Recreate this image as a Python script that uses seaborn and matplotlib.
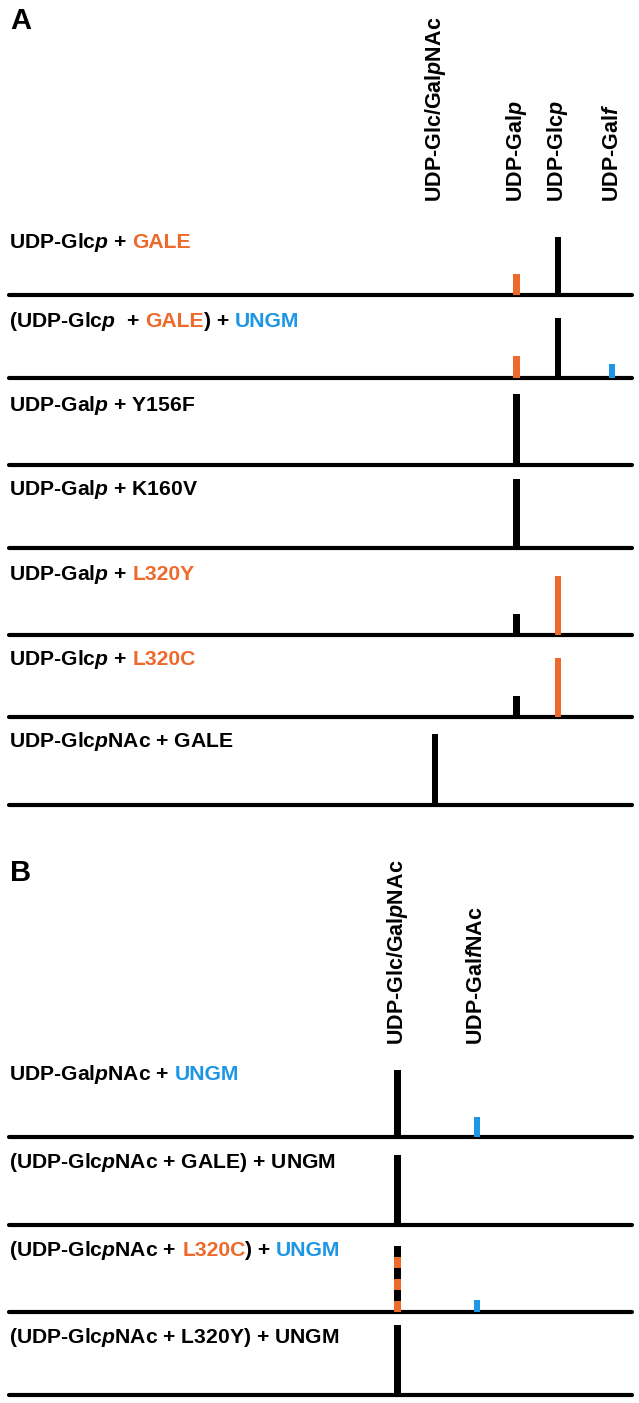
import numpy as np
import pandas as pd
import seaborn as sns
import matplotlib.pyplot as plt
from matplotlib import transforms as mtransforms

sns.set_theme(style="white")
plt.rcParams["font.family"] = ["Liberation Sans", "DejaVu Sans"]
plt.rcParams["text.color"] = "black"
plt.rcParams["mathtext.fontset"] = "custom"
plt.rcParams["mathtext.it"] = "Liberation Sans:italic:bold"
plt.rcParams["mathtext.rm"] = "Liberation Sans:bold"
plt.rcParams["mathtext.bf"] = "Liberation Sans:bold"
plt.rcParams["mathtext.sf"] = "Liberation Sans:bold"

ORANGE = "#ED6A2C"
BLUE = "#1D96E6"
colors = {"k": "black", "o": ORANGE, "b": BLUE}

# ---- panel A data ----
a_species = ["UDP-Glc/Gal$p$NAc", "UDP-Gal$p$", "UDP-Glc$p$", "UDP-Gal$f$"]
a_species_pos = [68.4, 81.5, 88.1, 96.8]   # elution position (a.u.)
a_labels = [
    [("UDP-Glc$p$ + ", "k"), ("GALE", "o")],
    [("(UDP-Glc$p$  + ", "k"), ("GALE", "o"), (") + ", "k"), ("UNGM", "b")],
    [("UDP-Gal$p$ + Y156F", "k")],
    [("UDP-Gal$p$ + K160V", "k")],
    [("UDP-Gal$p$ + ", "k"), ("L320Y", "o")],
    [("UDP-Glc$p$ + ", "k"), ("L320C", "o")],
    [("UDP-Glc$p$NAc + GALE", "k")],
]
a_peak_row = [0, 0, 1, 1, 1, 2, 3, 4, 4, 5, 5, 6]
a_peak_species = [2, 1, 2, 1, 3, 1, 1, 2, 1, 2, 1, 0]
a_peak_height = [58, 21, 60, 22, 14, 71, 69, 59, 21, 59, 21, 71]
a_peak_color = ["k", "o", "k", "o", "b", "k", "k", "o", "k", "o", "k", "k"]

# ---- panel B data ----
b_species = ["UDP-Glc/Gal$p$NAc", "UDP-Gal$f$NAc"]
b_species_pos = [62.4, 75.1]
b_labels = [
    [("UDP-Gal$p$NAc + ", "k"), ("UNGM", "b")],
    [("(UDP-Glc$p$NAc + GALE) + UNGM", "k")],
    [("(UDP-Glc$p$NAc + ", "k"), ("L320C", "o"), (") + ", "k"), ("UNGM", "b")],
    [("(UDP-Glc$p$NAc + L320Y) + UNGM", "k")],
]
b_peak_row = [0, 0, 1, 2, 2, 3]
b_peak_species = [0, 1, 0, 0, 1, 0]
b_peak_height = [67, 20, 70, 66, 12, 70]
b_peak_color = ["k", "b", "k", "ko", "b", "k"]   # "ko" = co-eluting black/orange

# ---- layout (pixels) ----
W, H = 639, 1403
fig = plt.figure(figsize=(W / 100, H / 100), dpi=100)
renderer = fig.canvas.get_renderer()
X0, X1 = 9, 632
ROW_H = 80
BAR_W = 1.05
label_font = dict(fontsize=15.2, fontweight="bold")

a_base = [295, 378, 465, 548, 635, 717, 805]
a_text = [248, 327, 411, 495, 580, 665, 747]
b_base = [1137, 1225, 1312, 1395]
b_text = [1080, 1168, 1256, 1343]


def text_width(s):
    t = fig.text(0, 0, s, **label_font)
    w = t.get_window_extent(renderer).width
    t.remove()
    return w


def rich_label(x, y, parts):
    prefix = ""
    for part, c in parts:
        off = 0 if not prefix else text_width(prefix + part[0]) - text_width(part[0])
        tr = mtransforms.offset_copy(fig.transFigure, x=off, y=0, units="dots")
        fig.text(x / W, 1 - y / H, part, color=colors[c], transform=tr,
                 ha="left", va="baseline", **label_font)
        prefix += part


def draw_panel(base, text_y, labels, species_pos, rows, spec, heights, cols):
    df = pd.DataFrame({"row": rows,
                       "pos": [species_pos[s] for s in spec],
                       "height": heights,
                       "color": cols})
    axes = []
    for i, b in enumerate(base):
        ax = fig.add_axes([X0 / W, 1 - b / H, (X1 - X0) / W, ROW_H / H])
        sub = df[df["row"] == i]
        for _, r in sub.iterrows():
            c = "k" if r["color"] == "ko" else r["color"]
            sns.barplot(x=[r["pos"]], y=[r["height"]], native_scale=True, orient="x",
                        width=BAR_W, color=colors[c], saturation=1, errorbar=None,
                        edgecolor="none", linewidth=0, ax=ax)
            if r["color"] == "ko":
                seg = r["height"] / 6
                ax.bar([r["pos"]] * 3, [seg] * 3, bottom=[0, 2 * seg, 4 * seg],
                       width=BAR_W, color=ORANGE, linewidth=0)
        ax.axhline(0, color="black", lw=3, clip_on=False, zorder=0)
        ax.set_xlim(0, 100)
        ax.set_ylim(0, ROW_H)
        ax.axis("off")
        rich_label(X0, text_y[i], labels[i])
        axes.append(ax)
    return axes


axes_a = draw_panel(a_base, a_text, a_labels, a_species_pos,
                    a_peak_row, a_peak_species, a_peak_height, a_peak_color)
axes_b = draw_panel(b_base, b_text, b_labels, b_species_pos,
                    b_peak_row, b_peak_species, b_peak_height, b_peak_color)

# column headers (rotated species names)
for axs, names, pos, y in [(axes_a, a_species, a_species_pos, 202),
                           (axes_b, b_species, b_species_pos, 1045)]:
    tr = mtransforms.blended_transform_factory(axs[0].transData, fig.transFigure)
    for name, p in zip(names, pos):
        fig.text(p, 1 - y / H, name, transform=tr, rotation=90, rotation_mode="anchor",
                 ha="left", va="center", fontsize=15.5, fontweight="bold", color="black")

fig.text(10 / W, 1 - 29 / H, "A", fontsize=21, fontweight="bold", va="baseline", color="black")
fig.text(10 / W, 1 - 881 / H, "B", fontsize=21, fontweight="bold", va="baseline", color="black")

fig.savefig("out.png", dpi=100)
